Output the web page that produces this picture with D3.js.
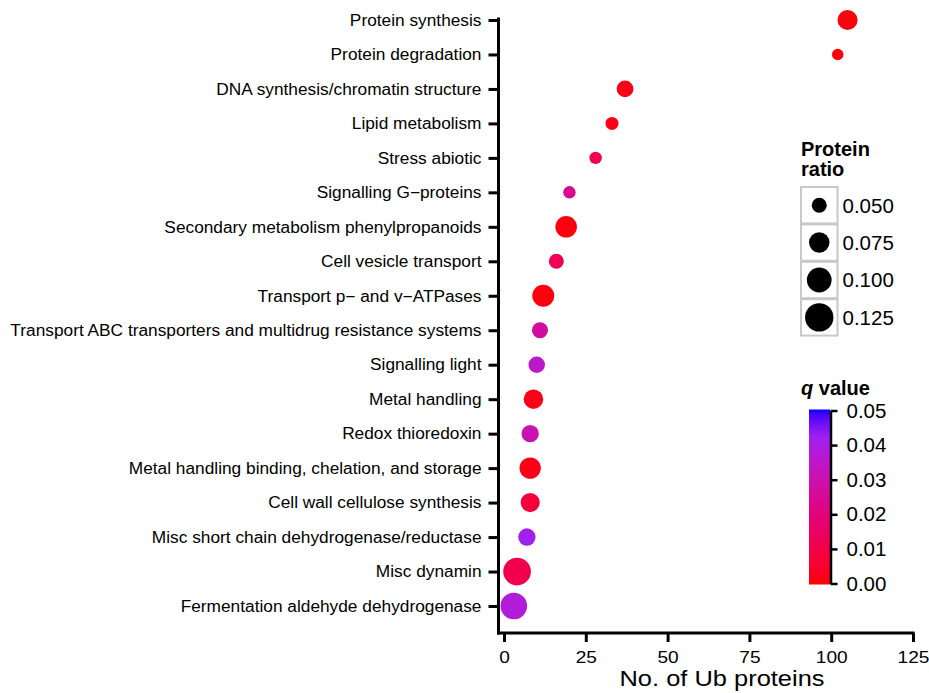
<!DOCTYPE html>
<html>
<head>
<meta charset="utf-8">
<script src="https://cdn.jsdelivr.net/npm/d3@7"></script>
<style>
  html, body { margin: 0; padding: 0; background: #fff; }
  svg { display: block; font-family: "Liberation Sans", Arial, Helvetica, sans-serif; }
</style>
</head>
<body>
<svg id="chart" width="929" height="693"></svg>
<script>
// Functional categories, top to bottom
const categories = [
  "Protein synthesis",
  "Protein degradation",
  "DNA synthesis/chromatin structure",
  "Lipid metabolism",
  "Stress abiotic",
  "Signalling G\u2212proteins",
  "Secondary metabolism phenylpropanoids",
  "Cell vesicle transport",
  "Transport p\u2212 and v\u2212ATPases",
  "Transport ABC transporters and multidrug resistance systems",
  "Signalling light",
  "Metal handling",
  "Redox thioredoxin",
  "Metal handling binding, chelation, and storage",
  "Cell wall cellulose synthesis",
  "Misc short chain dehydrogenase/reductase",
  "Misc dynamin",
  "Fermentation aldehyde dehydrogenase"
];
// Number of ubiquitinated proteins per category
const counts = [105, 102, 37, 33, 28, 20, 19, 16, 12, 11, 10, 9, 8, 8, 8, 7, 4, 3];
// Protein ratio (point size)
const ratios = [0.073, 0.038, 0.057, 0.043, 0.041, 0.041, 0.081, 0.050, 0.083, 0.054,
                0.056, 0.070, 0.060, 0.080, 0.068, 0.060, 0.120, 0.112];
// q value (point colour)
const qValues = [0.001, 0.001, 0.002, 0.002, 0.011, 0.024, 0.001, 0.012, 0.001, 0.027,
                 0.035, 0.002, 0.031, 0.002, 0.008, 0.042, 0.011, 0.038];

const xTicks = [0, 25, 50, 75, 100, 125];
const sizeBreaks = [0.050, 0.075, 0.100, 0.125];
const qTicks = [0.00, 0.01, 0.02, 0.03, 0.04, 0.05];
// Colour ramp for q values: red -> purple -> blue
const qColours = ["red", "#A020F0", "blue"];
const qStops = [0, 0.042, 0.05];

const svg = d3.select("#chart");

const x = d3.scaleLinear().domain([0, 125]).range([504, 913]);
const y = d3.scalePoint().domain(categories).range([20, 606]);
const r = d3.scaleRadial().domain([0.05, 0.125]).range([7.5, 14.2]);
const color = d3.scaleLinear().domain(qStops).range(qColours)
  .interpolate(d3.interpolateLab).clamp(true);

const rows = categories.map((c, i) => ({ cat: c, n: counts[i], ratio: ratios[i], q: qValues[i] }));

// ---- y axis ----
const yAxis = svg.append("g")
  .attr("transform", "translate(498.5,0)")
  .call(d3.axisLeft(y).tickSize(10).tickSizeOuter(0).tickPadding(7));
yAxis.select(".domain").remove();
yAxis.selectAll(".tick line").attr("stroke", "#000").attr("stroke-width", 3);
yAxis.selectAll(".tick text")
  .attr("fill", "#000")
  .style("font-size", "16.4px")
  .attr("x", -17 / 1.055)
  .attr("transform", "scale(1.055,1)");
svg.append("line")
  .attr("x1", 498.5).attr("x2", 498.5).attr("y1", 17.5).attr("y2", 634.5)
  .attr("stroke", "#000").attr("stroke-width", 3);

// ---- x axis ----
const xAxis = svg.append("g")
  .attr("transform", "translate(0,633)")
  .call(d3.axisBottom(x).tickValues(xTicks).tickSize(9).tickSizeOuter(0).tickPadding(9));
xAxis.select(".domain").remove();
xAxis.selectAll(".tick line").attr("stroke", "#000").attr("stroke-width", 3);
xAxis.selectAll(".tick text")
  .attr("fill", "#000")
  .style("font-size", "17.2px")
  .attr("transform", "scale(1.11,1)");
svg.append("line")
  .attr("x1", 497).attr("x2", 914.5).attr("y1", 633).attr("y2", 633)
  .attr("stroke", "#000").attr("stroke-width", 3);

svg.append("text")
  .attr("x", 722).attr("y", 686)
  .attr("text-anchor", "middle")
  .attr("textLength", 205)
  .attr("lengthAdjust", "spacingAndGlyphs")
  .style("font-size", "21.5px")
  .text("No. of Ub proteins");

// ---- points ----
svg.append("g").selectAll("circle")
  .data(rows)
  .join("circle")
  .attr("cx", d => x(d.n))
  .attr("cy", d => y(d.cat))
  .attr("r", d => r(d.ratio))
  .attr("fill", d => color(d.q));

// ---- size legend ----
const sizeLeg = svg.append("g");
sizeLeg.append("text").attr("x", 801).attr("y", 156)
  .style("font-size", "20px").style("font-weight", "bold").text("Protein");
sizeLeg.append("text").attr("x", 801).attr("y", 176)
  .style("font-size", "20px").style("font-weight", "bold").text("ratio");
const keyH = 37.4, keyTop = 187, keyX = 801, keyW = 36.5;
const keys = sizeLeg.selectAll("g.key").data(sizeBreaks).join("g")
  .attr("class", "key")
  .attr("transform", (d, i) => `translate(${keyX},${keyTop + i * keyH})`);
keys.append("rect")
  .attr("width", keyW).attr("height", keyH - 1)
  .attr("fill", "#fff").attr("stroke", "#c8c8c8").attr("stroke-width", 2);
keys.append("circle")
  .attr("cx", keyW / 2).attr("cy", (keyH - 1) / 2)
  .attr("r", d => r(d)).attr("fill", "#000");
keys.append("text")
  .attr("x", keyW + 5).attr("y", (keyH - 1) / 2)
  .attr("dy", "0.36em")
  .style("font-size", "20.5px")
  .text(d => d3.format(".3f")(d));

// ---- colour legend ----
const qScale = d3.scaleLinear().domain([0, 0.05]).range([583.5, 410.5]);
const defs = svg.append("defs");
const grad = defs.append("linearGradient").attr("id", "qgrad")
  .attr("x1", 0).attr("y1", 1).attr("x2", 0).attr("y2", 0);
d3.range(0, 1.0001, 0.02).forEach(t => {
  grad.append("stop").attr("offset", t).attr("stop-color", color(t * 0.05));
});
svg.append("rect")
  .attr("x", 809).attr("y", qScale(0.05) - 1)
  .attr("width", 21).attr("height", qScale(0) - qScale(0.05) + 2)
  .attr("fill", "url(#qgrad)");
const qAxis = svg.append("g")
  .attr("transform", "translate(830.5,0)")
  .call(d3.axisRight(qScale).tickValues(qTicks).tickSize(7).tickSizeOuter(0).tickPadding(9)
    .tickFormat(d3.format(".2f")));
qAxis.select(".domain").attr("stroke", "#000").attr("stroke-width", 2.5);
qAxis.selectAll(".tick line").attr("stroke", "#000").attr("stroke-width", 2.5);
qAxis.selectAll(".tick text").attr("fill", "#000").style("font-size", "20.5px");

const qTitle = svg.append("text").attr("x", 801).attr("y", 395)
  .style("font-size", "20px").style("font-weight", "bold");
qTitle.append("tspan").style("font-style", "italic").text("q");
qTitle.append("tspan").text(" value");
</script>
</body>
</html>
